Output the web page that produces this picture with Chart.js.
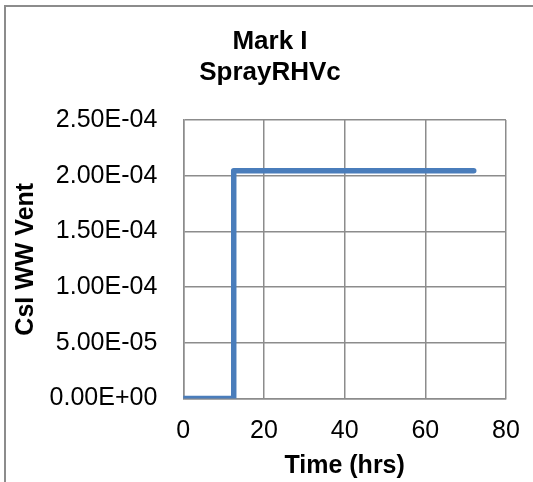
<!DOCTYPE html>
<html>
<head>
<meta charset="utf-8">
<script src="https://cdn.jsdelivr.net/npm/chart.js@4/dist/chart.umd.min.js"></script>
<style>
  html, body { margin: 0; padding: 0; background: #fff; overflow: hidden; }
  #wrap { position: relative; width: 533px; height: 482px; }
  #frame { position: absolute; left: 4px; top: 5px; width: 700px; height: 700px;
           border-left: 2px solid #8c8c8c; border-top: 2px solid #8c8c8c; }
  canvas { position: absolute; left: 0; top: 0; }
</style>
</head>
<body>
<div id="wrap">
  <div id="frame"></div>
  <canvas id="c" width="533" height="482"></canvas>
</div>
<script>
// ---- data ----
const timeHrs = [0, 12.5, 12.5, 72];
const csiWWVent = [0, 0, 2.045e-4, 2.045e-4];
const titleLines = ['Mark I', 'SprayRHVc'];
const xTitle = 'Time (hrs)';
const yTitle = 'CsI WW Vent';
const xTicks = [0, 20, 40, 60, 80];
const yTicks = [0, 5e-5, 1e-4, 1.5e-4, 2e-4, 2.5e-4];

const FONT = "'Liberation Sans', Arial, sans-serif";
const GRID = '#8c8c8c';

function fmtExp(v) {
  const parts = Number(v).toExponential(2).split('e');
  const sign = parts[1][0] === '-' ? '-' : '+';
  const digits = parts[1].replace(/^[+-]/, '').padStart(2, '0');
  return parts[0] + 'E' + sign + digits;
}

const points = timeHrs.map((t, i) => ({ x: t, y: csiWWVent[i] }));

new Chart(document.getElementById('c'), {
  type: 'line',
  data: {
    datasets: [{
      data: points,
      borderColor: '#4a7dbb',
      borderWidth: 5.5,
      pointRadius: 0,
      tension: 0,
      borderJoinStyle: 'round',
      borderCapStyle: 'round',
      fill: false
    }]
  },
  options: {
    responsive: false,
    animation: false,
    devicePixelRatio: 1,
    layout: { padding: { left: 7, right: 0, top: 0, bottom: 0 } },
    plugins: {
      legend: { display: false },
      tooltip: { enabled: false },
      title: {
        display: true,
        text: titleLines,
        color: '#000',
        font: { family: FONT, size: 26, weight: 'bold', lineHeight: 1.2 },
        padding: { top: 26, bottom: 31.6 }
      }
    },
    scales: {
      x: {
        type: 'linear',
        min: xTicks[0],
        max: xTicks[xTicks.length - 1],
        afterBuildTicks: (s) => { s.ticks = xTicks.map(v => ({ value: v })); },
        afterFit: (s) => { s.height = 83.5; s.paddingRight = 27; },
        grid: { color: GRID, lineWidth: 1.5, drawTicks: false },
        border: { color: GRID, width: 1.5 },
        ticks: { color: '#000', padding: 18, font: { family: FONT, size: 25 }, maxRotation: 0 },
        title: {
          display: true, text: xTitle, color: '#000',
          font: { family: FONT, size: 25, weight: 'bold', lineHeight: 1.2 },
          padding: { top: 0, bottom: 1 }
        }
      },
      y: {
        type: 'linear',
        min: yTicks[0],
        max: yTicks[yTicks.length - 1],
        afterBuildTicks: (s) => { s.ticks = yTicks.map(v => ({ value: v })); },
        afterFit: (s) => { s.width = 176.3; },
        grid: { color: GRID, lineWidth: 1.5, drawTicks: false },
        border: { color: GRID, width: 1.5 },
        ticks: { color: '#000', padding: 26, font: { family: FONT, size: 25 }, callback: (v) => fmtExp(v) },
        title: {
          display: true, text: yTitle, color: '#000',
          font: { family: FONT, size: 25, weight: 'bold', lineHeight: 1.2 },
          padding: { top: 4, bottom: 0 }
        }
      }
    }
  }
});
</script>
</body>
</html>
